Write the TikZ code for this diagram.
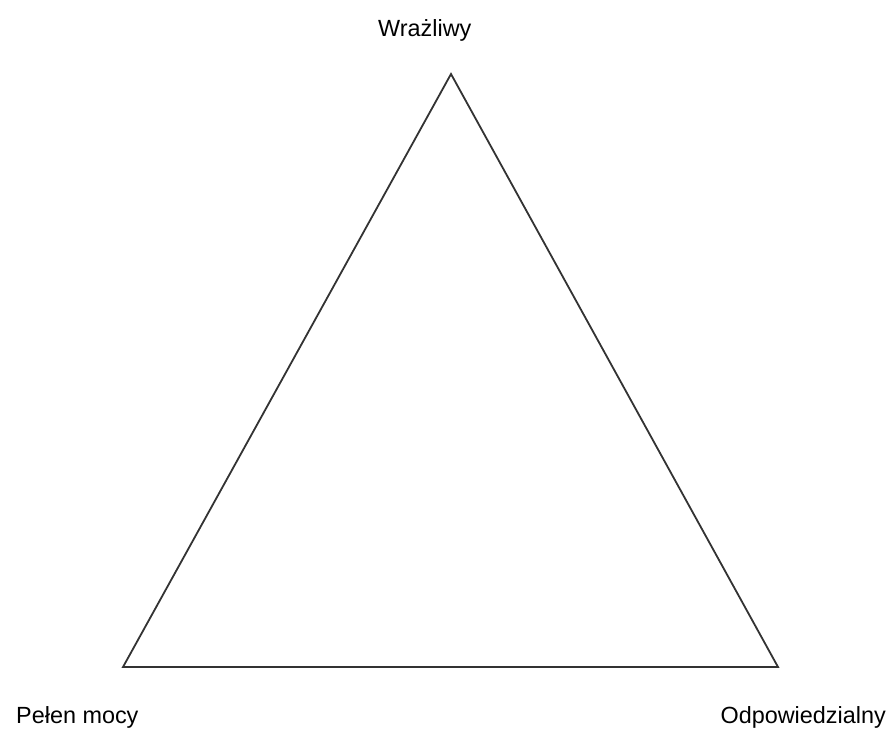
\documentclass[tikz,border=0pt]{standalone}
\usepackage{fontspec}
\setmainfont{Liberation Sans}
\usetikzlibrary{positioning}
\definecolor{edgeGray}{HTML}{333333}

\begin{document}
\begin{tikzpicture}[
    x=1pt, y=-1pt,
    side/.style={draw=edgeGray, line width=1.8pt, line join=miter},
    lbl/.style={inner sep=0pt, font=\fontsize{23.4}{28}\selectfont},
  ]
    \useasboundingbox (0,0) rectangle (891,734);

    % corners
    \coordinate (top) at (451,74);
    \coordinate (left) at (123,667);
    \coordinate (right) at (778,667);
    \draw[side] (top) -- (left) -- (right) -- cycle;

    % labels
    \node[lbl, anchor=base west] (wraz) at (378,36) {Wrażliwy};
    \node[lbl, anchor=base west] (pelen) at (16,723) {Pełen mocy};
    \node[lbl, anchor=base east] (odp) at (886,723) {Odpowiedzialny};
\end{tikzpicture}
\end{document}
